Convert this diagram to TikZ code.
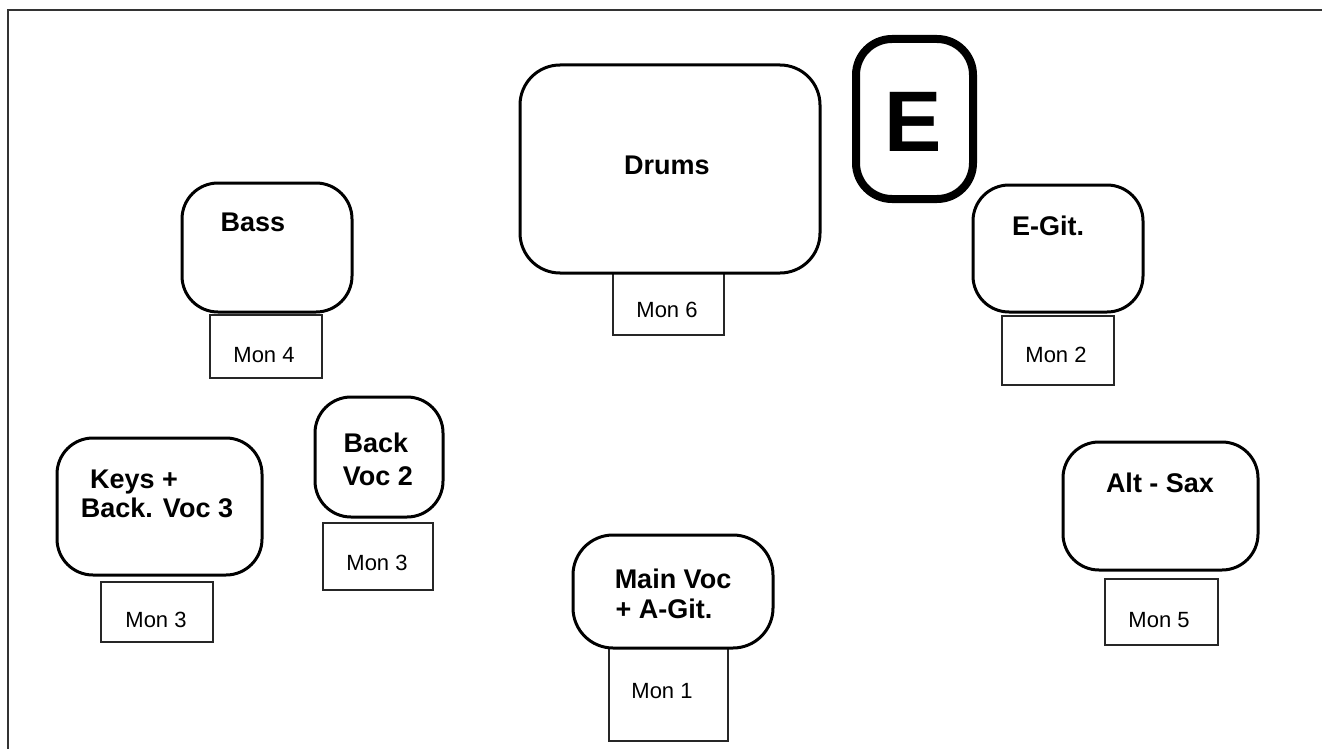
\documentclass[tikz,border=0pt]{standalone}
\usepackage{fontspec}
\setmainfont{Liberation Sans}
\begin{document}
\begin{tikzpicture}[x=1pt,y=-1pt,
  rbox/.style={draw, line width=3pt, inner sep=0pt, outer sep=0pt},
  mbox/.style={draw, line width=1.4pt, inner sep=0pt, outer sep=0pt, draw=black!85},
  btxt/.style={anchor=base, inner sep=0pt, font=\fontsize{27}{30}\selectfont\bfseries},
  mtxt/.style={anchor=base, inner sep=0pt, font=\fontsize{22}{26}\selectfont}]
\useasboundingbox (0,0) rectangle (1322,749);
% frame
\coordinate (fbl) at (8,752);
\coordinate (ftl) at (8,10);
\coordinate (ftr) at (1325,10);
\draw[line width=2.2pt, draw=black!80] (fbl) -- (ftl) -- (ftr);
% monitor boxes
\node[mbox, minimum width=111pt, minimum height=62pt] (mon6) at (668.5,304) {};
\node[mbox, minimum width=112pt, minimum height=63pt] (mon4) at (266,346.5) {};
\node[mbox, minimum width=112pt, minimum height=69pt] (mon2) at (1058,350.5) {};
\node[mbox, minimum width=112pt, minimum height=60pt] (mon3a) at (157,612) {};
\node[mbox, minimum width=110pt, minimum height=67pt] (mon3b) at (378,556.5) {};
\node[mbox, minimum width=119pt, minimum height=93pt] (mon1) at (668.5,694.5) {};
\node[mbox, minimum width=113pt, minimum height=66pt] (mon5) at (1161.5,612) {};
% instrument boxes
\node[rbox, rounded corners=40pt, minimum width=300pt, minimum height=208pt] (drums) at (670,169) {};
\node[rbox, line width=8pt, rounded corners=36pt, minimum width=117pt, minimum height=160pt] (ebox) at (914.5,119) {};
\node[rbox, rounded corners=36pt, minimum width=170pt, minimum height=129pt] (bass) at (267,247.5) {};
\node[rbox, rounded corners=36pt, minimum width=170pt, minimum height=127pt] (egit) at (1058,248.5) {};
\node[rbox, rounded corners=36pt, minimum width=205pt, minimum height=137pt] (keys) at (159.5,506.5) {};
\node[rbox, rounded corners=36pt, minimum width=128pt, minimum height=120pt] (backvoc) at (379,457) {};
\node[rbox, rounded corners=40pt, minimum width=200pt, minimum height=113pt] (mainvoc) at (673,591.5) {};
\node[rbox, rounded corners=36pt, minimum width=195pt, minimum height=128pt] (altsax) at (1160.5,506) {};
% labels
\node[btxt] (tdrums) at (667,175) {Drums};
\node[anchor=base, inner sep=0pt, font=\fontsize{86}{90}\selectfont\bfseries] (te) at (913,152) {E};
\node[btxt] (tbass) at (253,231) {Bass};
\node[btxt] (tegit) at (1048,235) {E-Git.};
\node[btxt] (tback) at (376,452) {Back};
\node[btxt] (tvoc2) at (378,485) {Voc 2};
\node[btxt] (tkeys) at (134,488) {Keys +};
\node[btxt] (tbvoc3) at (157,517) {Back. Voc 3};
\node[btxt] (tmain) at (673,588) {Main Voc};
\node[btxt] (tagit) at (664,618) {+ A-Git.};
\node[btxt] (talt) at (1160,492) {Alt - Sax};
\node[mtxt] (tmon6) at (667,317) {Mon 6};
\node[mtxt] (tmon4) at (264,362) {Mon 4};
\node[mtxt] (tmon2) at (1056,362) {Mon 2};
\node[mtxt] (tmon3b) at (377,570) {Mon 3};
\node[mtxt] (tmon3a) at (156,627) {Mon 3};
\node[mtxt] (tmon1) at (662,698) {Mon 1};
\node[mtxt] (tmon5) at (1159,627) {Mon 5};
\end{tikzpicture}
\end{document}
